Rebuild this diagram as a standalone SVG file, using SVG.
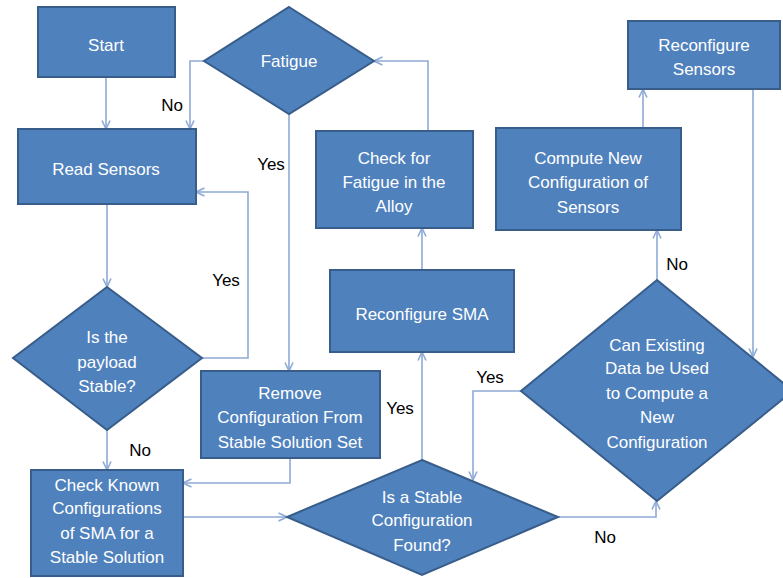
<svg xmlns="http://www.w3.org/2000/svg" width="783" height="578" viewBox="0 0 783 578">
<style>
.box{fill:#4F81BD;stroke:#385D8A;stroke-width:2}
.t{font-family:"Liberation Sans",Arial,sans-serif;font-size:17px;fill:#FFFFFF;text-anchor:middle}
.l{font-family:"Liberation Sans",Arial,sans-serif;font-size:17px;fill:#000000;text-anchor:middle}
.c{fill:none;stroke:#8EAAD6;stroke-width:1.6}
</style>
<defs>
<marker id="ah" viewBox="0 0 10 10" refX="9.5" refY="5" markerWidth="10" markerHeight="10" markerUnits="userSpaceOnUse" orient="auto">
<path d="M1,1 L9.5,5 L1,9" fill="none" stroke="#8EAAD6" stroke-width="1.6"/>
</marker>
</defs>
<rect width="783" height="578" fill="#FFFFFF"/>
<g id="connectors">
<path class="c" d="M106,77 V129" marker-end="url(#ah)"/>
<path class="c" d="M204,61 H190 V129" marker-end="url(#ah)"/>
<path class="c" d="M289,114 V371" marker-end="url(#ah)"/>
<path class="c" d="M428,131 V61 H374" marker-end="url(#ah)"/>
<path class="c" d="M422,270 V228" marker-end="url(#ah)"/>
<path class="c" d="M422,460 V352" marker-end="url(#ah)"/>
<path class="c" d="M643,128 V89" marker-end="url(#ah)"/>
<path class="c" d="M753,89 V357" marker-end="url(#ah)"/>
<path class="c" d="M657,280 V230" marker-end="url(#ah)"/>
<path class="c" d="M521,391 H473 V480" marker-end="url(#ah)"/>
<path class="c" d="M558,517 H656 V501" marker-end="url(#ah)"/>
<path class="c" d="M107,204 V287" marker-end="url(#ah)"/>
<path class="c" d="M202,358 H248 V192 H196" marker-end="url(#ah)"/>
<path class="c" d="M107,430 V470" marker-end="url(#ah)"/>
<path class="c" d="M290,458 V483 H183" marker-end="url(#ah)"/>
<path class="c" d="M183,517 H287" marker-end="url(#ah)"/>
</g>
<g id="start"><rect class="box" x="38" y="7" width="137" height="70"/><text class="t" x="106" y="51">Start</text></g>
<g id="read-sensors"><rect class="box" x="18" y="129" width="178" height="75"/><text class="t" x="106" y="175">Read Sensors</text></g>
<g id="fatigue"><polygon class="box" points="289,7 374,61 289,114 204,61"/><text class="t" x="289" y="67">Fatigue</text></g>
<g id="check-fatigue"><rect class="box" x="316" y="131" width="157" height="97"/><text class="t" x="394" y="164">Check for</text><text class="t" x="394" y="188">Fatigue in the</text><text class="t" x="394" y="212">Alloy</text></g>
<g id="compute-new"><rect class="box" x="496" y="128" width="185" height="102"/><text class="t" x="588" y="164">Compute New</text><text class="t" x="588" y="188">Configuration of</text><text class="t" x="588" y="213">Sensors</text></g>
<g id="reconfigure-sensors"><rect class="box" x="628" y="21" width="152" height="68"/><text class="t" x="704" y="51">Reconfigure</text><text class="t" x="704" y="75">Sensors</text></g>
<g id="reconfigure-sma"><rect class="box" x="330" y="270" width="184" height="82"/><text class="t" x="422" y="320">Reconfigure SMA</text></g>
<g id="payload-stable"><polygon class="box" points="107,287 202,358 107,430 13,358"/><text class="t" x="107" y="343">Is the</text><text class="t" x="107" y="368">payload</text><text class="t" x="107" y="392">Stable?</text></g>
<g id="remove-config"><rect class="box" x="201" y="371" width="179" height="87"/><text class="t" x="290" y="399">Remove</text><text class="t" x="290" y="423">Configuration From</text><text class="t" x="290" y="448">Stable Solution Set</text></g>
<g id="check-known"><rect class="box" x="31" y="470" width="152" height="106"/><text class="t" x="107" y="491">Check Known</text><text class="t" x="107" y="514">Configurations</text><text class="t" x="107" y="539">of SMA for a</text><text class="t" x="107" y="563">Stable Solution</text></g>
<g id="stable-found"><polygon class="box" points="422,460 558,517 422,575 287,517"/><text class="t" x="422" y="503">Is a Stable</text><text class="t" x="422" y="526">Configuration</text><text class="t" x="422" y="551">Found?</text></g>
<g id="can-existing"><polygon class="box" points="657,280 793,391 657,501 521,391"/><text class="t" x="657" y="351">Can Existing</text><text class="t" x="657" y="374">Data be Used</text><text class="t" x="657" y="399">to Compute a</text><text class="t" x="657" y="423">New</text><text class="t" x="657" y="448">Configuration</text></g>
<g id="labels">
<text class="l" x="172" y="111">No</text>
<text class="l" x="271" y="170">Yes</text>
<text class="l" x="226" y="286">Yes</text>
<text class="l" x="140" y="456">No</text>
<text class="l" x="400" y="414">Yes</text>
<text class="l" x="490" y="383">Yes</text>
<text class="l" x="677" y="270">No</text>
<text class="l" x="605" y="543">No</text>
</g>
</svg>
